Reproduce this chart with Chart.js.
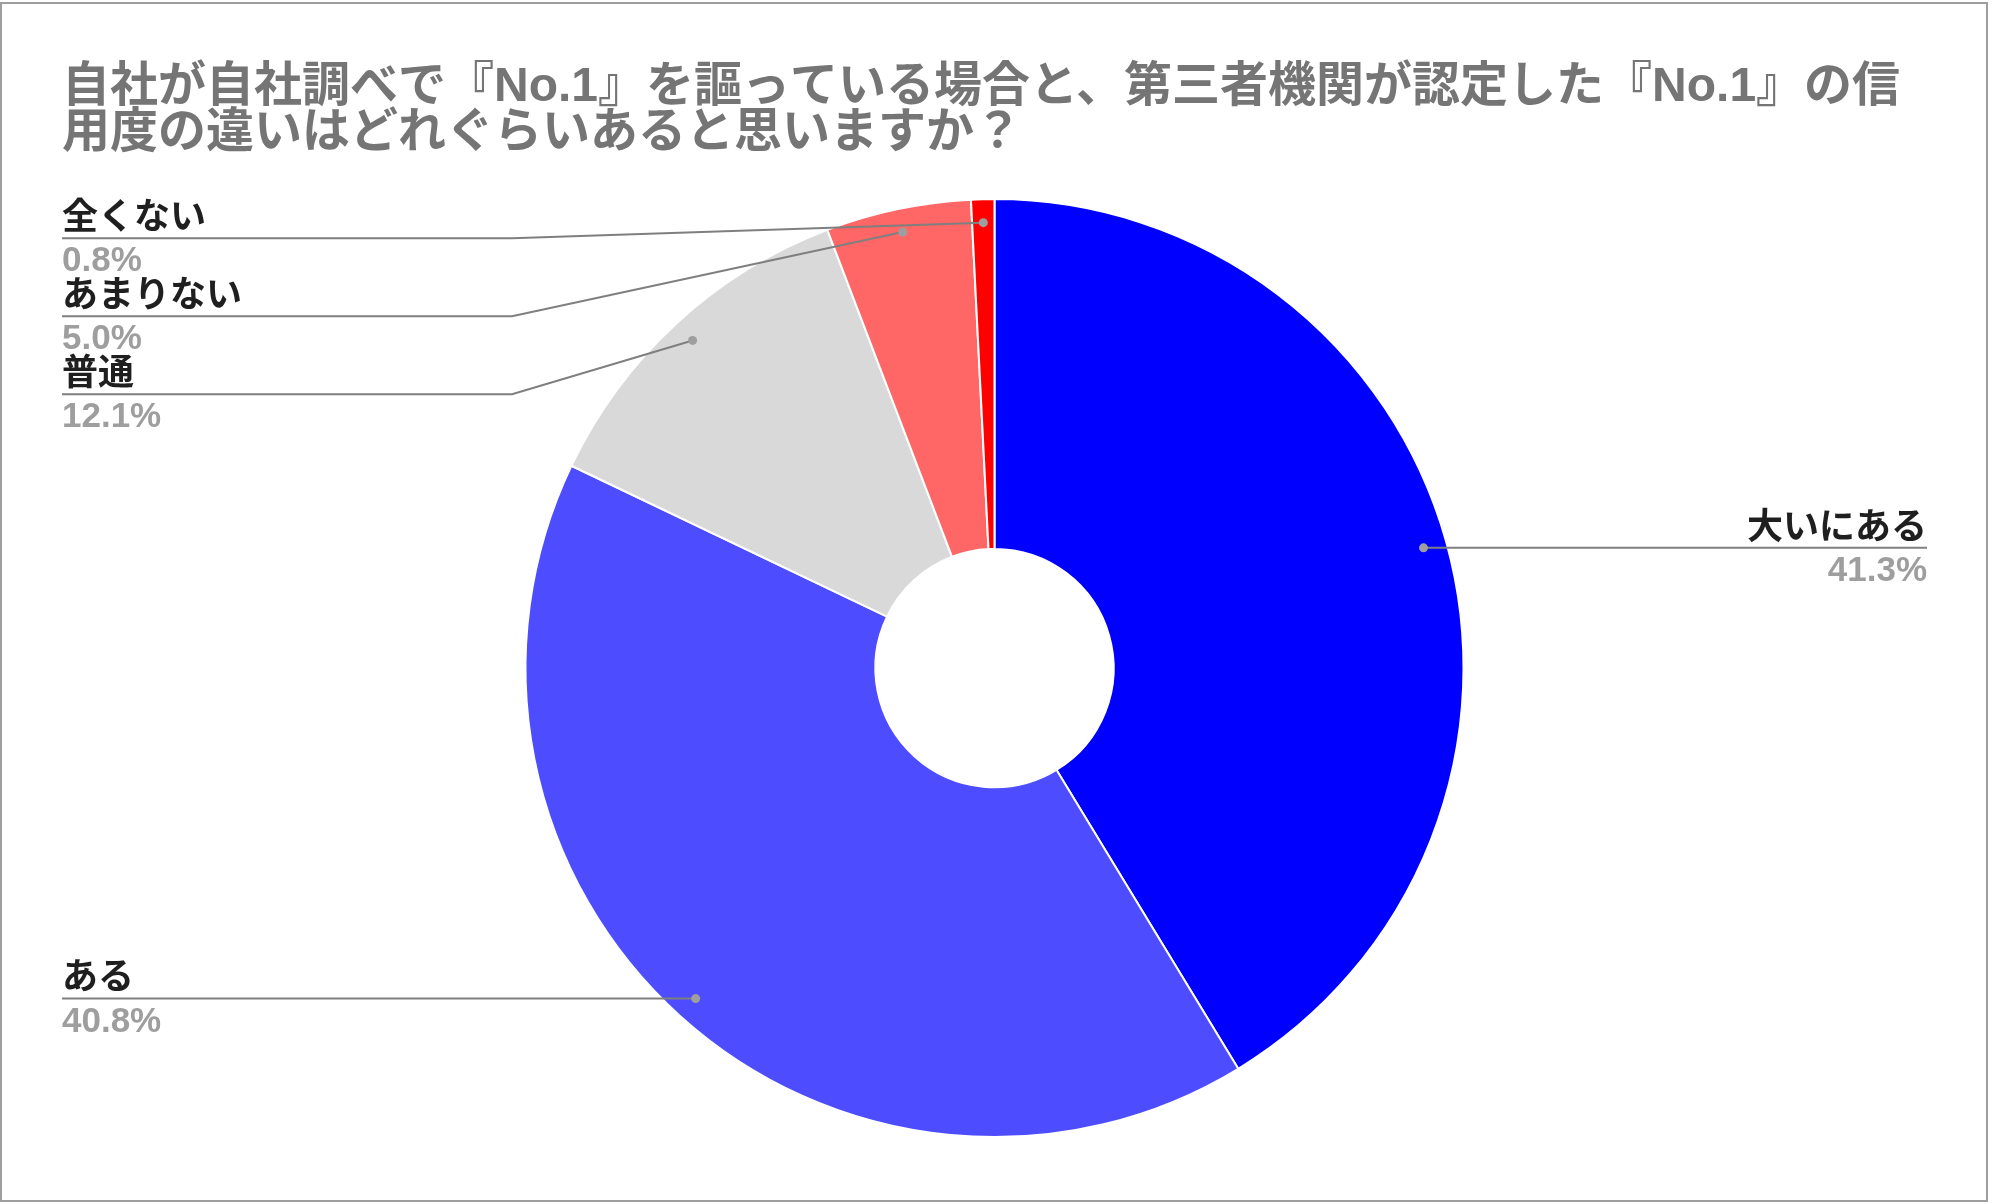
<!DOCTYPE html>
<html lang="ja">
<head>
<meta charset="utf-8">
<title>No.1 信用度の違い</title>
<script src="https://cdn.jsdelivr.net/npm/chart.js@4.4.1/dist/chart.umd.min.js"></script>
<style>
  html, body { margin: 0; padding: 0; background: #fff; }
  #wrap { position: relative; width: 1992px; height: 1204px; }
  #trustChart { position: absolute; left: 0; top: 0; }
  #frame {
    position: absolute; left: 0; top: 2px; width: 1988px; height: 1200px;
    border: 2px solid #9e9e9e; box-sizing: border-box; pointer-events: none;
  }
</style>
</head>
<body>
<div id="wrap">
  <canvas id="trustChart" width="1992" height="1204"></canvas>
  <div id="frame"></div>
</div>
<script>
// Survey answers (percent), clockwise from 12 o'clock
const titleLines = [
  "自社が自社調べで『No.1』を謳っている場合と、第三者機関が認定した『No.1』の信",
  "用度の違いはどれぐらいあると思いますか？",
];
const categories = ["大いにある", "ある", "普通", "あまりない", "全くない"];
const shares = [41.3, 40.8, 12.1, 5.0, 0.8];

// Latin glyphs from Liberation Sans, kana/kanji fall back to Noto CJK
const FONT = "'Liberation Sans', 'Noto Sans CJK JP', sans-serif";
Chart.defaults.font.family = FONT;

// Leader lines with a dot inside each slice, name above / percent below
const calloutPlugin = {
  id: "callouts",
  afterDatasetsDraw(chart) {
    const { ctx, chartArea } = chart;
    const meta = chart.getDatasetMeta(0);

    const items = meta.data.map((arc, i) => {
      const mid = (arc.startAngle + arc.endAngle) / 2;
      const r = arc.outerRadius * 0.95;
      return {
        i,
        x: arc.x + Math.cos(mid) * r,
        y: arc.y + Math.sin(mid) * r,
        right: Math.cos(mid) >= 0,
      };
    });

    // keep labels from overlapping on each side
    [true, false].forEach((side) => {
      let prev = -Infinity;
      items
        .filter((it) => it.right === side)
        .sort((a, b) => a.y - b.y)
        .forEach((it) => {
          it.lineY = Math.max(it.y, prev + 78, chartArea.top + 38);
          prev = it.lineY;
        });
    });

    ctx.save();
    items.forEach((it) => {
      const endX = it.right ? chartArea.right : chartArea.left;
      const elbowX = it.right
        ? Math.max(it.x, chartArea.right - 450)
        : Math.min(it.x, chartArea.left + 450);

      ctx.strokeStyle = "#7f7f7f";
      ctx.lineWidth = 2;
      ctx.beginPath();
      ctx.moveTo(it.x, it.y);
      ctx.lineTo(elbowX, it.lineY);
      ctx.lineTo(endX, it.lineY);
      ctx.stroke();

      ctx.fillStyle = "#9e9e9e";
      ctx.beginPath();
      ctx.arc(it.x, it.y, 4.5, 0, Math.PI * 2);
      ctx.fill();

      ctx.textAlign = it.right ? "right" : "left";
      ctx.font = "bold 36px " + FONT;
      ctx.fillStyle = "#1f1f1f";
      ctx.textBaseline = "middle";
      ctx.fillText(categories[it.i], endX, it.lineY - 19);

      ctx.font = "bold 35px " + FONT;
      ctx.fillStyle = "#9e9e9e";
      ctx.textBaseline = "alphabetic";
      ctx.fillText(shares[it.i].toFixed(1) + "%", endX, it.lineY + 33);
    });
    ctx.restore();
  },
};

new Chart(document.getElementById("trustChart"), {
  type: "doughnut",
  data: {
    labels: categories,
    datasets: [
      {
        data: shares,
        backgroundColor: [
          "#0000ff", // 大いにある
          "#4d4dff", // ある
          "#d9d9d9", // 普通
          "#ff6666", // あまりない
          "#ff0000", // 全くない
        ],
        borderColor: "#ffffff",
        borderWidth: 2,
        clip: false,
      },
    ],
  },
  options: {
    responsive: false,
    devicePixelRatio: 1,
    animation: false,
    radius: 469,
    cutout: "25.4%",
    layout: { padding: { left: 62, right: 65, top: 0, bottom: 68 } },
    plugins: {
      legend: { display: false },
      tooltip: { enabled: false },
      title: {
        display: true,
        text: titleLines,
        align: "start",
        color: "#757575",
        font: { size: 48, weight: "bold", lineHeight: 0.96 },
        padding: { top: 65, bottom: 43 },
      },
    },
  },
  plugins: [calloutPlugin],
});
</script>
</body>
</html>
